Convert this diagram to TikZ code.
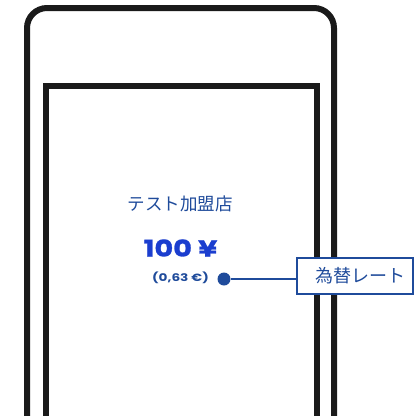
\documentclass[tikz,border=0pt]{standalone}
\usepackage{fontspec}
\newfontfamily\cjk{Noto Sans CJK JP}
\newfontfamily\poppins[FakeStretch=1.3]{Poppins}
\newfontfamily\poppinsfett[FakeStretch=1.25, BoldFeatures={FakeBold=1.2}]{Poppins}
\usetikzlibrary{positioning}
\definecolor{tintenblau}{HTML}{1F4B9B}
\definecolor{hellblau}{HTML}{1B3ECF}
\definecolor{rahmengrau}{HTML}{1A1A1A}
\begin{document}
\begin{tikzpicture}[
      x=1pt, y=-1pt,
      geraet/.style={draw=rahmengrau, line width=6pt, rounded corners=20pt},
      bildschirm/.style={draw=rahmengrau, line width=6pt},
      titel/.style={font=\cjk\fontsize{17.5}{20}\selectfont, text=tintenblau, inner sep=0pt},
      betrag/.style={font=\poppinsfett\bfseries\fontsize{23}{26}\selectfont, text=hellblau, inner sep=0pt},
      umrechnung/.style={font=\poppins\bfseries\fontsize{10.5}{12}\selectfont, text=tintenblau, inner sep=0pt},
      punkt/.style={circle, fill=tintenblau, minimum size=13pt, inner sep=0pt},
      kasten/.style={draw=tintenblau, fill=white, line width=2pt, minimum width=116pt,
        minimum height=36pt, inner sep=0pt, text width=100pt, align=right,
        font=\cjk\fontsize{18}{21}\selectfont, text=tintenblau},
      verbindung/.style={draw=tintenblau, line width=2pt}
    ]
    \useasboundingbox[fill=white] (0,0) rectangle (416,416);
    \clip (0,0) rectangle (416,416);

    % ---------- Geraet und Bildschirm ----------
    \draw[geraet] (27,440) -- (27,8) -- (334,8) -- (334,440);
    \draw[bildschirm] (45.5,440) -- (45.5,86) -- (316.5,86) -- (316.5,440);

    % ---------- Texte auf dem Bildschirm ----------
    \node[titel] (haendler) at (180.5,204) {テスト加盟店};
    \node[betrag] (preis) at (180.5,248) {100 ¥};
    \node[umrechnung] (euro) at (180.5,278) {(0,63 €)};

    % ---------- Hinweis Wechselkurs ----------
    \node[punkt] (kurspunkt) at (224,279) {};
    \node[kasten] (kurskasten) at (355,276) {為替レート};
    \draw[verbindung] (kurspunkt) -- (kurspunkt -| kurskasten.west);
  \end{tikzpicture}
\end{document}
